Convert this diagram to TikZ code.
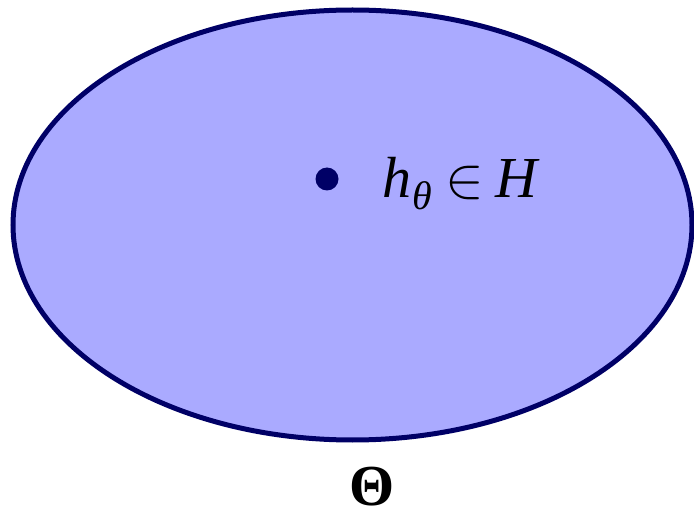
\RequirePackage{fix-cm}
\documentclass[tikz,border=0pt]{standalone}
\usepackage{fontspec}
\setmainfont{Liberation Serif}
\begin{document}
\begin{tikzpicture}[x=1pt,y=-1pt,
  region/.style={draw={rgb,255:red,0;green,0;blue,102},fill={rgb,255:red,170;green,170;blue,255},line width=5pt},
  pt/.style={circle,fill={rgb,255:red,0;green,0;blue,102},inner sep=0pt,minimum size=23pt},
  lbl/.style={font=\fontsize{58}{60}\selectfont,inner sep=0pt}]
\useasboundingbox (0,0) rectangle (694,513);
\draw[region] (352.5,225) ellipse [x radius=339.5, y radius=215];
\node[pt] (h) at (327,179) {};
\node[lbl,anchor=base west] (hl) at (382,198) {\itshape h\kern1pt\raisebox{-12pt}{\fontsize{40}{40}\selectfont θ}\kern14pt$\in$\kern11pt H};
\node[lbl,anchor=base] (th) at (372,505) {\bfseries Θ};
\end{tikzpicture}
\end{document}
